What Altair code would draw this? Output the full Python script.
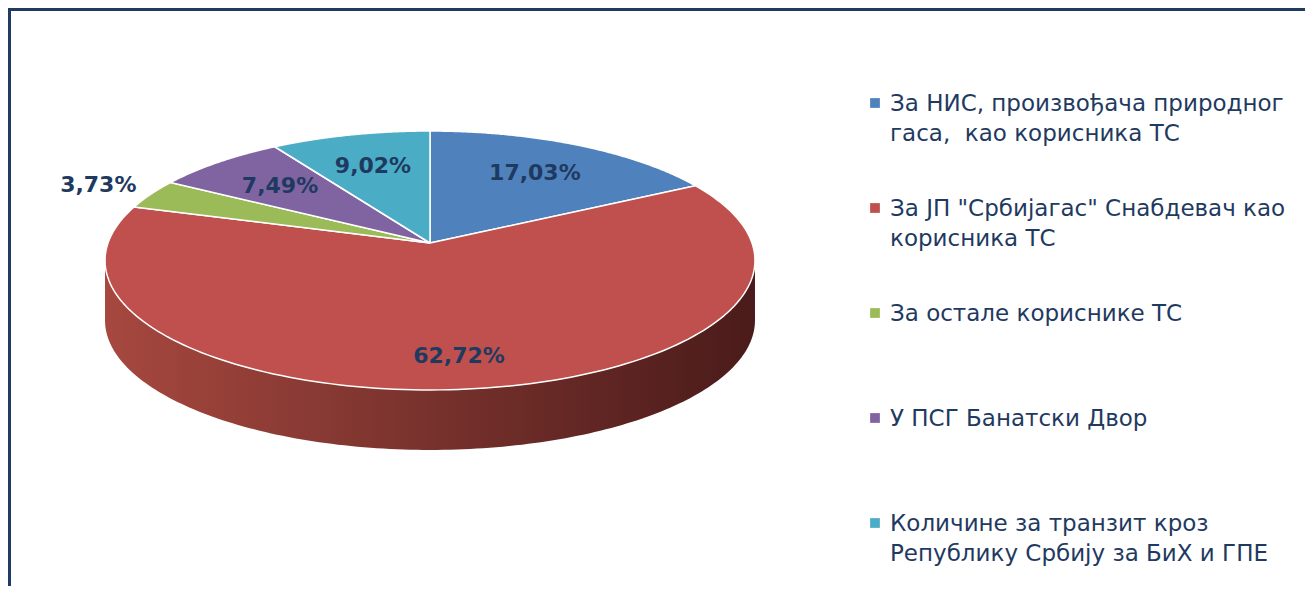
import altair as alt
import pandas as pd

# ---- data ----
categories = [
    "За НИС, произвођача природног\nгаса,\u00a0 као корисника ТС",
    "За ЈП \"Србијагас\" Снабдевач као\nкорисника ТС",
    "За остале кориснике ТС",
    "У ПСГ Банатски Двор",
    "Количине за транзит кроз\nРепублику Србију за БиХ и ГПЕ",
]
values = [17.03, 62.72, 3.73, 7.49, 9.02]
colors = ["#4f81bd", "#c0504d", "#9bbb59", "#8064a2", "#4bacc6"]

df = pd.DataFrame({"category": categories, "value": values, "idx": list(range(len(values)))})

# ---- layout / style constants ----
W, H = 1297, 578
CX, APEX_Y = 422, 235          # pie centre (apex) in plot pixels
A, B, K, DEPTH = 322, 127.1, 0.135, 60   # radii, perspective factor, wall depth
N = 160
LEG_X, LEG_TX, LEG_Y0, LEG_STEP = 866, 882, 95, 105
TEXT_COLOR = "#1f3a60"
FRAME = "#1f3b63"

xscale = alt.Scale(domain=[0, W], range=[0, W], nice=False, zero=False)
yscale = alt.Scale(domain=[0, H], range=[0, H], nice=False, zero=False)
cscale = alt.Scale(domain=categories, range=colors)

base = alt.Chart(df).transform_window(
    cum="sum(value)", sort=[alt.SortField("idx")], frame=[None, 0]
).transform_joinaggregate(total="sum(value)").transform_calculate(
    a0="2*PI*(datum.cum - datum.value)/datum.total",
    a1="2*PI*datum.cum/datum.total",
)

# perspective projection of a point on the unit disc (u = sin, v = cos)
def proj_x(u, v):
    return f"{CX} + {A} * ({u}) / (1 + {K} * ({v}))"

def proj_y(v):
    return f"{APEX_Y} - {B} * ({v}) / (1 + {K} * ({v}))"

# side wall (visible front part of the pie)
wall = base.transform_calculate(
    w0=f"max(datum.a0, PI/2 + asin({K}))", w1=f"min(datum.a1, 3*PI/2 - asin({K}))"
).transform_filter("datum.w1 > datum.w0").transform_calculate(
    steps=f"sequence(0, {N + 1})"
).transform_flatten(["steps"], as_=["step"]).transform_calculate(
    ang=f"datum.w0 + (datum.w1 - datum.w0) * datum.step / {N}"
).transform_calculate(
    px=proj_x("sin(datum.ang)", "cos(datum.ang)"),
    ytop=proj_y("cos(datum.ang)"),
).transform_calculate(
    ybot=f"datum.ytop + {DEPTH}",
).mark_area(
    color=alt.Gradient(
        gradient="linear",
        stops=[alt.GradientStop(color="#a6483f", offset=0),
               alt.GradientStop(color="#4a1b1a", offset=1)],
        x1=0, x2=1, y1=0, y2=0,
    )
).encode(
    x=alt.X("px:Q", scale=xscale, axis=None),
    y=alt.Y("ytop:Q", scale=yscale, axis=None),
    y2="ybot:Q",
    detail="category:N",
)

# top face slices
slices = base.transform_calculate(
    steps=f"sequence(-1, {N + 2})"
).transform_flatten(["steps"], as_=["step"]).transform_calculate(
    ang=f"datum.a0 + (datum.a1 - datum.a0) * clamp(datum.step, 0, {N}) / {N}",
    rr=f"(datum.step < 0 || datum.step > {N}) ? 0 : 1",
).transform_calculate(
    px=proj_x("datum.rr * sin(datum.ang)", "datum.rr * cos(datum.ang)"),
    py=proj_y("datum.rr * cos(datum.ang)"),
).mark_line(stroke="white", strokeWidth=1.5, strokeJoin="round").encode(
    x=alt.X("px:Q", scale=xscale, axis=None),
    y=alt.Y("py:Q", scale=yscale, axis=None),
    fill=alt.Fill("category:N", scale=cscale, legend=None),
    detail="category:N",
    order="step:Q",
)

# percentage labels
labels = base.transform_calculate(
    mid="(datum.a0 + datum.a1) / 2",
    r="datum.value < 5 ? 1.2 : (datum.value > 50 ? 0.8 : 0.69)",
    txt="replace(format(datum.value, '.2f'), '.', ',') + '%'",
).transform_calculate(
    lx=proj_x("datum.r * sin(datum.mid)", "datum.r * cos(datum.mid)"),
    ly=proj_y("datum.r * cos(datum.mid)"),
).mark_text(font="DejaVu Sans", fontWeight="bold", fontSize=22, color=TEXT_COLOR).encode(
    x=alt.X("lx:Q", scale=xscale, axis=None),
    y=alt.Y("ly:Q", scale=yscale, axis=None),
    text="txt:N",
)

# custom legend
leg_base = alt.Chart(df).transform_calculate(
    ly=f"{LEG_Y0} + {LEG_STEP} * datum.idx"
)
leg_sq = leg_base.mark_square(size=95, opacity=1).encode(
    x=alt.value(LEG_X + 1),
    y=alt.Y("ly:Q", scale=yscale, axis=None),
    color=alt.Color("category:N", scale=cscale, legend=None),
)
leg_txt = leg_base.mark_text(
    align="left", baseline="top", lineBreak="\n", lineHeight=30,
    font="DejaVu Sans", fontSize=23, color=TEXT_COLOR, dy=-10,
).encode(
    x=alt.value(LEG_TX),
    y=alt.Y("ly:Q", scale=yscale, axis=None),
    text="category:N",
)

# frame lines (decoration)
fr = pd.DataFrame({"k": [0]})
frame_top = alt.Chart(fr).mark_rule(color=FRAME, strokeWidth=3).encode(
    x=alt.value(0), x2=alt.value(W), y=alt.value(1.5)
)
frame_left = alt.Chart(fr).mark_rule(color=FRAME, strokeWidth=3).encode(
    x=alt.value(1.5), y=alt.value(0), y2=alt.value(H)
)

chart = alt.layer(
    wall, slices, labels, leg_sq, leg_txt, frame_top, frame_left
).properties(
    width=W, height=H, padding=0,
    autosize=alt.AutoSizeParams(type="none"),
    background="white",
).configure_view(stroke=None)

chart.save("out.html", embed_options={"renderer": "svg", "actions": False})
